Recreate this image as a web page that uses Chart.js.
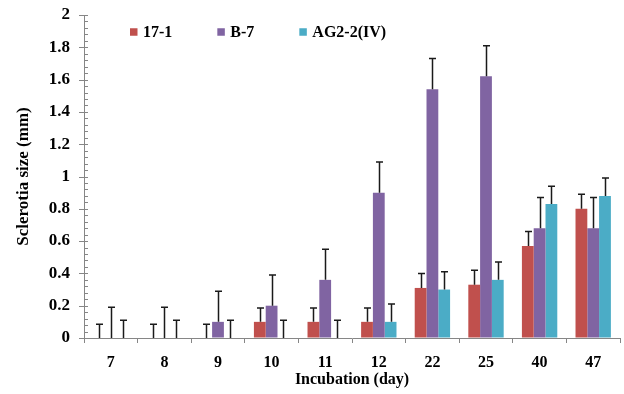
<!DOCTYPE html>
<html>
<head>
<meta charset="utf-8">
<script src="https://cdn.jsdelivr.net/npm/chart.js@4/dist/chart.umd.min.js"></script>
<style>
  html, body { margin: 0; padding: 0; background: #fff; }
  canvas { display: block; }
</style>
</head>
<body>
<canvas id="c" width="624" height="394"></canvas>
<script>
const days = ['7', '8', '9', '10', '11', '12', '22', '25', '40', '47'];
const seriesNames = ['17-1', 'B-7', 'AG2-2(IV)'];
const seriesColors = ['#C0504D', '#8064A2', '#4BACC6'];

const size171 = [0, 0, 0, 0.1, 0.1, 0.1, 0.31, 0.33, 0.57, 0.80];
const sizeB7 = [0, 0, 0.1, 0.2, 0.36, 0.9, 1.54, 1.62, 0.68, 0.68];
const sizeAG = [0, 0, 0, 0, 0, 0.1, 0.30, 0.36, 0.83, 0.88];

const err171 = [0.085, 0.085, 0.085, 0.085, 0.085, 0.085, 0.09, 0.09, 0.09, 0.09];
const errB7 = [0.19, 0.19, 0.19, 0.19, 0.19, 0.19, 0.19, 0.19, 0.19, 0.19];
const errAG = [0.11, 0.11, 0.11, 0.11, 0.11, 0.11, 0.11, 0.11, 0.11, 0.11];

const FONT = "'Liberation Serif', 'Times New Roman', serif";
const AXIS_GREY = '#868686';

const values = [size171, sizeB7, sizeAG];
const errors = [err171, errB7, errAG];

// upper error bars with caps
const errorBars = {
    id: 'errorBars',
    afterDatasetsDraw(chart) {
        const ctx = chart.ctx;
        const y = chart.scales.y;
        ctx.save();
        ctx.strokeStyle = '#1a1a1a';
        ctx.lineWidth = 1.5;
        chart.data.datasets.forEach((ds, i) => {
            const meta = chart.getDatasetMeta(i);
            meta.data.forEach((bar, j) => {
                const top = y.getPixelForValue(ds.data[j] + ds.err[j]);
                const x = Math.round(bar.x) + 0.5;
                ctx.beginPath();
                ctx.moveTo(x, bar.y);
                ctx.lineTo(x, top);
                ctx.moveTo(x - 3.5, top);
                ctx.lineTo(x + 3.5, top);
                ctx.stroke();
            });
        });
        ctx.restore();
    }
};

// y-axis major + minor ticks
const yTicks = {
    id: 'yTicks',
    afterDraw(chart) {
        const ctx = chart.ctx;
        const y = chart.scales.y;
        const x0 = chart.chartArea.left;
        ctx.save();
        ctx.strokeStyle = AXIS_GREY;
        ctx.lineWidth = 1;
        for (let k = 0; k <= 50; k++) {
            const py = Math.round(y.getPixelForValue(k * 0.04)) + 0.5;
            ctx.beginPath();
            if (k % 5 === 0) { ctx.moveTo(x0 - 5, py); ctx.lineTo(x0 + 4, py); }
            else { ctx.moveTo(x0, py); ctx.lineTo(x0 + 4, py); }
            ctx.stroke();
        }
        ctx.restore();
    }
};

// legend inside the plot area
const insideLegend = {
    id: 'insideLegend',
    afterDraw(chart) {
        const ctx = chart.ctx;
        ctx.save();
        ctx.font = `bold 16px ${FONT}`;
        ctx.textBaseline = 'middle';
        ctx.textAlign = 'left';
        let x = 130;
        const cy = 32;
        chart.data.datasets.forEach((ds) => {
            ctx.fillStyle = ds.backgroundColor;
            ctx.fillRect(x, cy - 3.75, 7.5, 7.5);
            ctx.fillStyle = '#000';
            ctx.fillText(ds.label, x + 13, cy + 1);
            x += 13 + ctx.measureText(ds.label).width + 45;
        });
        ctx.restore();
    }
};

new Chart(document.getElementById('c'), {
    type: 'bar',
    data: {
        labels: days,
        datasets: seriesNames.map((name, i) => ({
            label: name,
            data: values[i],
            err: errors[i],
            backgroundColor: seriesColors[i],
            borderWidth: 0,
            categoryPercentage: 0.66,
            barPercentage: 1.0
        }))
    },
    options: {
        responsive: false,
        animation: false,
        layout: { padding: { top: 15, right: 4, left: 0, bottom: 0 } },
        plugins: {
            legend: { display: false },
            tooltip: { enabled: false }
        },
        scales: {
            x: {
                grid: { display: true, drawOnChartArea: false, drawTicks: true, tickLength: 5, color: AXIS_GREY, offset: true },
                border: { color: AXIS_GREY, width: 1 },
                ticks: { color: '#000', font: { family: FONT, size: 16, weight: 'bold' }, padding: 10, maxRotation: 0 },
                title: { display: true, text: 'Incubation (day)', color: '#000', font: { family: FONT, size: 16, weight: 'bold' }, padding: { top: 0, bottom: 5 } },
                afterFit(s) { s.height = 56; s.paddingLeft = 0; s.paddingRight = 0; }
            },
            y: {
                min: 0,
                max: 2,
                ticks: {
                    stepSize: 0.2,
                    color: '#000',
                    font: { family: FONT, size: 17, weight: 'bold' },
                    padding: 14,
                    callback: (v) => String(Number(v.toFixed(1)))
                },
                grid: { display: true, drawOnChartArea: false, drawTicks: false },
                border: { color: AXIS_GREY, width: 1 },
                title: { display: true, text: 'Sclerotia size (mm)', color: '#000', font: { family: FONT, size: 17, weight: 'bold' }, padding: { top: 13, bottom: 0 } },
                afterFit(s) { s.width = 84; s.paddingTop = 0; s.paddingBottom = 0; }
            }
        }
    },
    plugins: [errorBars, yTicks, insideLegend]
});
</script>
</body>
</html>
